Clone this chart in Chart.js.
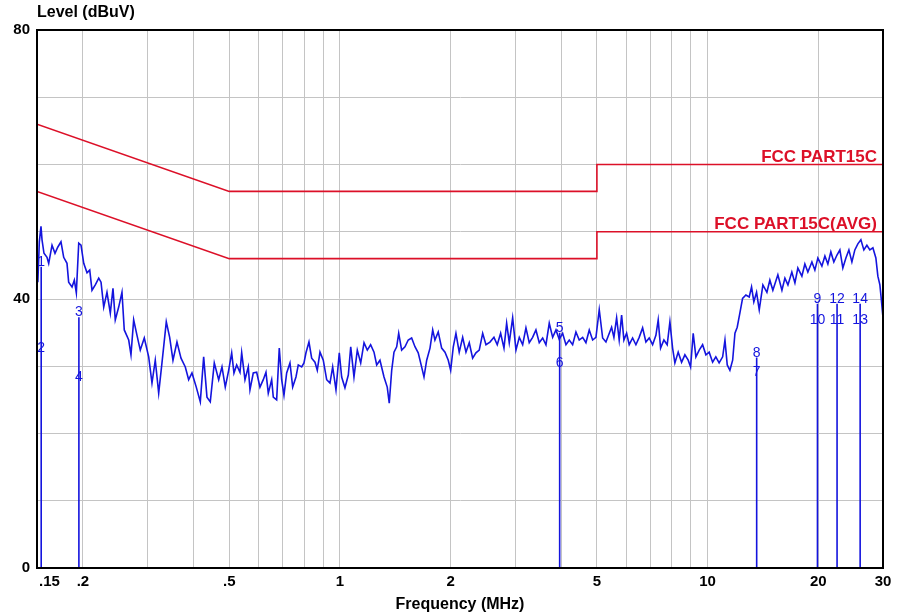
<!DOCTYPE html>
<html>
<head>
<meta charset="utf-8">
<script src="https://cdn.jsdelivr.net/npm/chart.js@4.4.1/dist/chart.umd.min.js"></script>
<style>
  html, body { margin: 0; padding: 0; background: #ffffff; }
  #wrap { width: 902px; height: 616px; position: relative; }
</style>
</head>
<body>
<div id="wrap"><canvas id="c" width="902" height="616"></canvas></div>
<script>
// ---- Data ----
const traceFreq = [
  0.1500,0.1508,0.1522,0.1538,0.1548,0.1567,0.1597,0.1614,0.1648,0.1679,0.1708,0.1743,0.1773,0.1810,0.1829,0.1868,
  0.1895,0.1919,0.1948,0.1976,0.2010,0.2052,0.2087,0.2117,0.2161,0.2208,0.2240,0.2278,0.2325,0.2374,0.2414,0.2449,
  0.2502,0.2554,0.2591,0.2664,0.2702,0.2748,0.2806,0.2864,0.2937,0.3019,0.3082,0.3146,0.3214,0.3281,0.3371,0.3443,
  0.3515,0.3604,0.3696,0.3797,0.3878,0.3959,0.4067,0.4171,0.4260,0.4349,0.4440,0.4553,0.4680,0.4778,0.4877,0.4982,
  0.5077,0.5150,0.5238,0.5348,0.5405,0.5518,0.5633,0.5693,0.5812,0.5937,0.6061,0.6188,0.6293,0.6385,0.6522,0.6588,
  0.6729,0.6840,0.6943,0.7044,0.7164,0.7314,0.7439,0.7594,0.7704,0.7870,0.7984,0.8085,0.8238,0.8379,0.8553,0.8678,
  0.8826,0.9010,0.9204,0.9396,0.9556,0.9756,0.9960,1.011,1.032,1.054,1.070,1.092,1.115,1.139,1.163,1.187,
  1.212,1.238,1.259,1.285,1.318,1.345,1.362,1.383,1.403,1.427,1.445,1.472,1.503,1.534,1.567,1.600,
  1.633,1.668,1.693,1.722,1.758,1.788,1.813,1.851,1.891,1.931,1.971,2.001,2.034,2.068,2.111,2.157,
  2.202,2.248,2.296,2.344,2.393,2.445,2.496,2.559,2.624,2.679,2.736,2.794,2.841,2.888,2.950,3.012,
  3.075,3.141,3.206,3.273,3.343,3.413,3.485,3.560,3.634,3.710,3.790,3.869,3.949,4.034,4.119,4.205,
  4.295,4.385,4.476,4.573,4.668,4.766,4.868,4.970,5.074,5.183,5.291,5.482,5.562,5.657,5.749,5.837,
  5.921,6.022,6.121,6.253,6.383,6.516,6.657,6.796,6.938,7.087,7.235,7.340,7.451,7.607,7.765,7.898,
  8.032,8.149,8.319,8.498,8.675,8.857,8.991,9.139,9.294,9.489,9.693,9.895,10.10,10.32,10.53,10.75,
  10.99,11.15,11.31,11.50,11.70,11.87,12.04,12.24,12.45,12.71,12.98,13.17,13.36,13.59,13.82,14.14,
  14.50,14.77,15.05,15.53,15.93,16.23,16.54,16.95,17.28,17.60,18.05,18.39,18.74,19.22,19.58,19.95,
  20.46,20.85,21.24,21.64,22.05,22.47,22.90,23.33,23.78,24.23,24.69,25.15,25.63,26.12,26.61,27.12,
  27.63,28.16,28.69,29.05,29.42,29.69,30.00
];
const traceLevel = [
  46.0,42.5,48.5,50.8,48.8,46.8,46.2,45.3,48.0,46.8,47.7,48.5,46.2,45.3,42.5,41.8,
  42.8,40.9,48.3,48.0,45.3,43.9,44.3,41.3,42.1,43.1,42.5,38.8,41.0,37.9,41.6,36.9,
  38.8,41.0,35.4,33.9,31.7,36.9,34.6,32.4,34.2,31.4,27.5,30.9,26.0,30.5,36.6,34.3,
  30.9,33.6,31.2,29.9,28.0,29.0,26.9,24.7,31.4,25.4,24.7,30.5,28.0,29.9,26.9,29.4,
  32.0,29.0,30.2,29.1,32.0,28.0,29.9,26.5,29.0,29.1,26.9,28.0,29.1,26.0,28.0,25.4,
  25.0,32.7,28.0,25.7,29.0,30.5,26.9,28.4,30.2,29.9,30.5,32.0,33.6,31.2,30.6,29.4,
  32.1,30.9,28.0,27.5,29.9,26.5,32.0,28.4,26.8,28.7,32.9,28.4,32.4,30.5,33.5,32.4,
  33.2,32.1,30.2,30.9,28.4,26.9,24.5,29.4,32.1,32.9,34.9,32.4,32.9,33.9,34.2,32.9,
  32.0,29.9,28.4,30.9,32.7,35.4,33.9,35.1,32.7,32.1,30.9,29.4,32.9,34.9,32.1,34.3,
  32.1,33.5,31.2,32.0,32.4,34.9,33.2,33.6,34.3,33.2,34.9,32.7,36.4,33.5,37.2,32.4,
  34.3,33.2,35.7,33.5,34.3,35.4,33.5,34.2,33.2,36.4,34.3,35.4,34.0,34.9,33.2,33.9,
  33.2,35.1,33.9,34.3,33.5,35.4,33.9,34.3,38.4,34.2,33.6,35.8,34.3,37.2,33.9,37.6,
  33.9,34.9,33.2,34.2,33.2,34.3,35.7,33.6,34.2,33.2,34.6,36.9,32.7,33.9,33.2,36.6,
  32.7,30.5,32.1,30.6,31.7,30.9,29.9,34.9,31.4,32.4,33.2,31.7,32.1,30.6,31.4,30.5,
  31.4,33.9,30.2,29.4,30.9,34.9,35.8,37.9,40.1,40.6,40.3,41.8,39.6,41.0,38.4,42.1,
  41.0,42.8,41.3,43.6,41.3,43.1,42.1,44.0,42.4,44.6,43.4,45.2,44.0,45.5,44.3,46.1,
  44.9,46.4,45.2,47.0,45.5,46.5,47.3,44.6,46.1,47.3,45.5,47.3,48.2,48.8,47.3,48.0,
  47.3,47.6,46.1,43.4,42.1,39.9,37.2
];

// Limit lines (FCC Part 15C)
const qpFreq = [0.15, 0.5, 5, 5, 30];
const qpLevel = [66, 56, 56, 60, 60];
const avgFreq = [0.15, 0.5, 5, 5, 30];
const avgLevel = [56, 46, 46, 50, 50];
const limitNames = ['FCC PART15C', 'FCC PART15C(AVG)'];

// Markers
const markerNames = ['1','2','3','4','5','6','7','8','9','10','11','12','13','14'];
const markerFreq  = [0.154,0.154,0.195,0.195,3.96,3.96,13.6,13.6,19.9,19.9,22.5,22.5,26.0,26.0];
const markerLevel = [44.8,32.0,37.3,27.7,35.0,29.7,28.4,31.3,39.3,36.1,36.1,39.3,36.1,39.3];

// Axes
const xGridValues = [0.15,0.2,0.3,0.4,0.5,0.6,0.7,0.8,0.9,1,2,3,4,5,6,7,8,9,10,20,30];
const xTickValues = [0.15,0.2,0.5,1,2,5,10,20,30];
const xTickLabels = ['.15','.2','.5','1','2','5','10','20','30'];
const yTickLabels = [0, 40, 80];
const yTitle = 'Level (dBuV)';
const xTitle = 'Frequency (MHz)';

// ---- Build datasets ----
const BLUE = '#1414de';
const RED = '#dc1028';

const toXY = (xs, ys) => xs.map((x, i) => ({ x: x, y: ys[i] }));

const markerLineData = [];
for (let i = 0; i < markerFreq.length; i += 2) {
  const f = markerFreq[i];
  const top = Math.max(markerLevel[i], markerLevel[i + 1]);
  markerLineData.push({ x: f, y: 0 }, { x: f, y: top }, { x: f, y: null });
}

const overlayPlugin = {
  id: 'overlay',
  afterDatasetsDraw(chart) {
    const ctx = chart.ctx;
    const xs = chart.scales.x, ys = chart.scales.y;
    const ca = chart.chartArea;
    ctx.save();
    // marker labels
    ctx.fillStyle = BLUE;
    ctx.font = '14px "Liberation Sans", Arial, sans-serif';
    ctx.textAlign = 'center';
    ctx.textBaseline = 'alphabetic';
    markerNames.forEach((n, i) => {
      ctx.fillText(n, xs.getPixelForValue(markerFreq[i]), ys.getPixelForValue(markerLevel[i]) - 1);
    });
    // limit labels
    ctx.fillStyle = RED;
    ctx.font = 'bold 17px "Liberation Sans", Arial, sans-serif';
    ctx.textAlign = 'right';
    ctx.fillText(limitNames[0], ca.right - 6, ys.getPixelForValue(qpLevel[qpLevel.length - 1]) - 3);
    ctx.fillText(limitNames[1], ca.right - 6, ys.getPixelForValue(avgLevel[avgLevel.length - 1]) - 3);
    // frame
    ctx.strokeStyle = '#000000';
    ctx.lineWidth = 2;
    ctx.strokeRect(ca.left, ca.top, ca.right - ca.left, ca.bottom - ca.top);
    // y title
    ctx.fillStyle = '#000000';
    ctx.font = 'bold 16px "Liberation Sans", Arial, sans-serif';
    ctx.textAlign = 'left';
    ctx.textBaseline = 'middle';
    ctx.fillText(yTitle, ca.left, 13);
    ctx.restore();
  }
};

new Chart(document.getElementById('c'), {
  type: 'line',
  data: {
    datasets: [
      { data: toXY(qpFreq, qpLevel), borderColor: RED, borderWidth: 1.6, pointRadius: 0, tension: 0 },
      { data: toXY(avgFreq, avgLevel), borderColor: RED, borderWidth: 1.6, pointRadius: 0, tension: 0 },
      { data: markerLineData, borderColor: BLUE, borderWidth: 1.6, pointRadius: 0, tension: 0, spanGaps: false },
      { data: toXY(traceFreq, traceLevel), borderColor: BLUE, borderWidth: 1.6, pointRadius: 0, tension: 0 }
    ]
  },
  options: {
    responsive: false,
    animation: false,
    devicePixelRatio: 1,
    layout: { padding: { top: 30, right: 19, left: 0, bottom: 0 } },
    plugins: { legend: { display: false }, tooltip: { enabled: false } },
    scales: {
      x: {
        type: 'logarithmic',
        min: 0.15,
        max: 30,
        afterBuildTicks: (s) => { s.ticks = xGridValues.map(v => ({ value: v })); },
        afterFit: (s) => { s.height = 48; },
        grid: { color: '#c4c4c4', lineWidth: 1, drawTicks: false },
        border: { display: true, color: '#000000', width: 2 },
        ticks: {
          autoSkip: false,
          maxRotation: 0,
          padding: 5,
          color: '#000000',
          font: { family: '"Liberation Sans", Arial, sans-serif', size: 15, weight: 'bold' },
          callback: (v, idx) => {
            const i = xTickValues.findIndex(t => Math.abs(t - v) < 1e-9);
            if (i < 0) return '';
            // first label sits just right of the axis corner, as in the reference
            return idx === 0 ? '      ' + xTickLabels[i] : xTickLabels[i];
          }
        },
        title: {
          display: true,
          text: xTitle,
          color: '#000000',
          font: { family: '"Liberation Sans", Arial, sans-serif', size: 16, weight: 'bold' },
          padding: { top: 0, bottom: 2 }
        }
      },
      y: {
        type: 'linear',
        min: 0,
        max: 80,
        afterFit: (s) => { s.width = 37; },
        grid: { color: '#c4c4c4', lineWidth: 1, drawTicks: false },
        border: { display: true, color: '#000000', width: 2 },
        ticks: {
          stepSize: 10,
          padding: 7,
          color: '#000000',
          font: { family: '"Liberation Sans", Arial, sans-serif', size: 15, weight: 'bold' },
          callback: (v) => (yTickLabels.includes(v) ? String(v) : '')
        }
      }
    }
  },
  plugins: [overlayPlugin]
});
</script>
</body>
</html>
